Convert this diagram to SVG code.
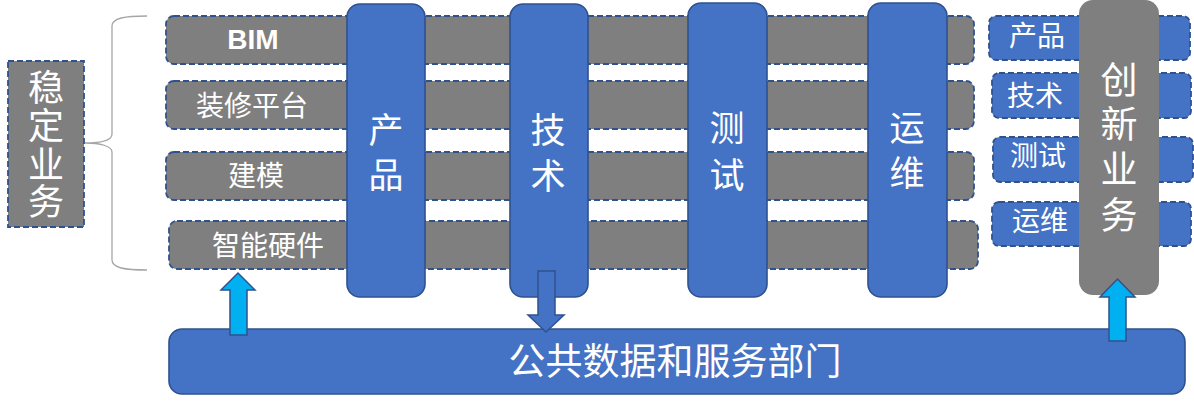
<svg xmlns="http://www.w3.org/2000/svg" width="1194" height="408" viewBox="0 0 1194 408">
<style>
.row{fill:#7F7F7F;stroke:#2F528F;stroke-width:1.8;stroke-dasharray:6 3}
.nrow{fill:#4472C4;stroke:#2F528F;stroke-width:1.8;stroke-dasharray:6 3}
.col{fill:#4472C4;stroke:#2F528F;stroke-width:1.6}
.gcol{fill:#7F7F7F;stroke:none}
.t{fill:#FFFFFF;font-family:"Liberation Sans","Noto Sans CJK SC",sans-serif;text-anchor:middle}
.rt{font-size:28px}
.ct{font-size:35px}
.arrUp{fill:#00B0F0;stroke:#2F528F;stroke-width:1.5}
.arrDn{fill:#4472C4;stroke:#2F528F;stroke-width:1.5}
</style>
<rect width="1194" height="408" fill="#FFFFFF"/>

<g id="stable-label">
<rect x="8" y="61" width="76" height="166" class="row"/>
<text class="t" font-size="36" x="46" y="101">稳</text>
<text class="t" font-size="36" x="46" y="139">定</text>
<text class="t" font-size="36" x="46" y="178">业</text>
<text class="t" font-size="36" x="46" y="215">务</text>
</g>

<g id="brace">
<path d="M147,16 C125,16 112,18 112,26 L112,134 C112,141 100,143 85,143 C100,143 112,146 112,152 L112,260 C112,268 125,270 147,270" fill="none" stroke="#A6A6A6" stroke-width="1.3"/>
</g>

<g id="row-bim">
<rect x="166" y="16" width="808" height="48" rx="8" class="row"/>
<text class="t" x="253" y="49" font-size="28" font-weight="bold" font-family="'Liberation Sans',Arial,sans-serif">BIM</text>
</g>
<g id="row-zhuangxiu">
<rect x="166" y="81" width="808" height="48" rx="8" class="row"/>
<text class="t rt" x="252" y="116">装修平台</text>
</g>
<g id="row-jianmo">
<rect x="166" y="152" width="808" height="48" rx="8" class="row"/>
<text class="t rt" x="256" y="186">建模</text>
</g>
<g id="row-yingjian">
<rect x="169" y="221" width="809" height="48" rx="8" class="row"/>
<text class="t rt" x="268" y="256">智能硬件</text>
</g>

<g id="col-chanpin">
<rect x="347" y="4" width="78" height="293" rx="13" class="col"/>
<text class="t ct" x="386" y="143">产</text>
<text class="t ct" x="386" y="188">品</text>
</g>
<g id="col-jishu">
<rect x="510" y="4" width="78" height="293" rx="13" class="col"/>
<text class="t ct" x="548" y="143">技</text>
<text class="t ct" x="548" y="189">术</text>
</g>
<g id="col-ceshi">
<rect x="688" y="3" width="79" height="294" rx="13" class="col"/>
<text class="t ct" x="727" y="141">测</text>
<text class="t ct" x="727" y="188">试</text>
</g>
<g id="col-yunwei">
<rect x="868" y="3" width="79" height="294" rx="13" class="col"/>
<text class="t ct" x="907" y="141">运</text>
<text class="t ct" x="907" y="186">维</text>
</g>

<g id="new-chanpin">
<rect x="989" y="16" width="201" height="44" rx="7" class="nrow"/>
<text class="t rt" x="1037" y="46">产品</text>
</g>
<g id="new-jishu">
<rect x="992" y="73" width="199" height="45" rx="7" class="nrow"/>
<text class="t rt" x="1035" y="106">技术</text>
</g>
<g id="new-ceshi">
<rect x="993" y="137" width="200" height="45" rx="7" class="nrow"/>
<text class="t rt" x="1038" y="166">测试</text>
</g>
<g id="new-yunwei">
<rect x="992" y="202" width="199" height="44" rx="7" class="nrow"/>
<text class="t rt" x="1040" y="231">运维</text>
</g>

<g id="col-chuangxin">
<rect x="1079" y="0" width="80" height="295" rx="14" class="gcol"/>
<text class="t" font-size="37" x="1119" y="94">创</text>
<text class="t" font-size="37" x="1119" y="138">新</text>
<text class="t" font-size="37" x="1119" y="183">业</text>
<text class="t" font-size="37" x="1119" y="229">务</text>
</g>

<g id="public-dept">
<rect x="169" y="329" width="1016" height="65" rx="13" class="col"/>
<text class="t" font-size="37" x="675" y="375">公共数据和服务部门</text>
</g>

<g id="connectors">
<path d="M230,335 L230,290 L221,290 L238,273 L255,290 L247,290 L247,335 Z" class="arrUp"/>
<path d="M538,271 L555,271 L555,315 L564,315 L546,332 L528,315 L538,315 Z" class="arrDn"/>
<path d="M1109,341 L1109,297 L1100,297 L1117.5,279 L1135,297 L1126,297 L1126,341 Z" class="arrUp"/>
</g>
</svg>
